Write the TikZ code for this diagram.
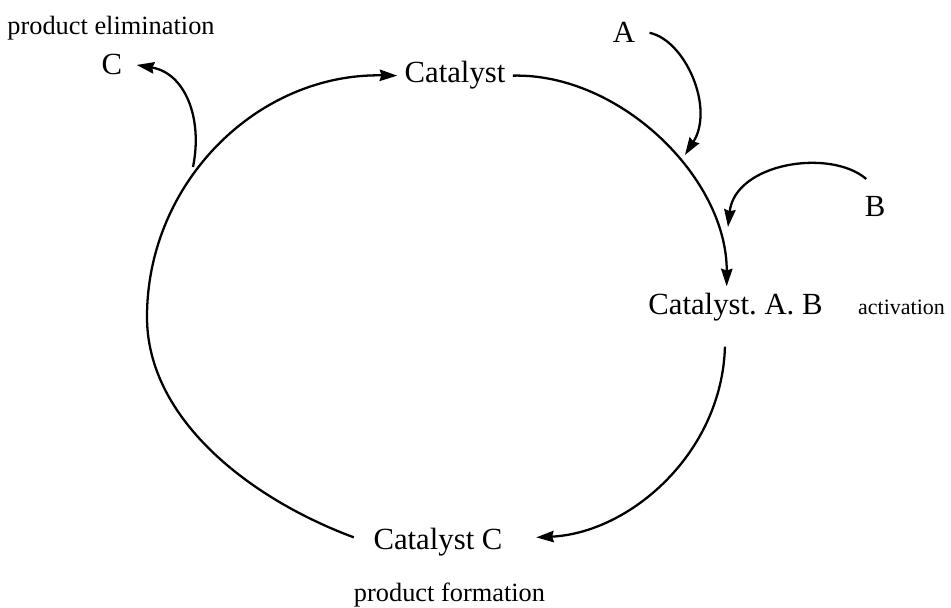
\documentclass[tikz,border=0pt]{standalone}
\usepackage{fontspec}
\setmainfont{Liberation Serif}
\usepackage{tikz}
\usetikzlibrary{arrows.meta}
\frenchspacing
\tikzstyle{species} = [font=\fontsize{17.5}{20}\selectfont, inner sep=4pt, anchor=base]
\tikzstyle{steplabel} = [font=\fontsize{15}{18}\selectfont, inner sep=2pt, anchor=base]
\tikzstyle{arrow} = [line width=1.3pt, -{Stealth[length=10pt,width=6.5pt,inset=1pt]}]

\begin{document}
\begin{tikzpicture}[x=0.02cm, y=0.02cm]
\useasboundingbox (0,0) rectangle (951,608);
\node (pelim) [steplabel] at (111,573) {product elimination};
\node (prodC) [species] at (112,533) {C};
\node (cat) [species] at (455,525) {Catalyst};
\node (A) [species] at (624,565) {A};
\node (B) [species] at (875,391) {B};
\node (catAB) [species] at (735.5,293) {Catalyst. A. B};
\node (activ) [steplabel, font=\fontsize{12.5}{15}\selectfont] at (901.5,293) {activation};
\node (catC) [species] at (438,58) {Catalyst C};
\node (pform) [steplabel] at (449.5,6) {product formation};

\coordinate (lft) at (147,291);
\coordinate (elim) at (193,441);
\coordinate (addA) at (685,453);
\coordinate (addB) at (728,381);

\draw [arrow] ([xshift=-7pt,yshift=3pt]catC.west) .. controls (248,110) and (147,190) .. (lft) .. controls (147,426) and (258,535) .. (cat.west);
\draw [arrow] (cat.east) .. controls (620,535) and (727,430) .. ([xshift=-5pt]catAB.north);
\draw [arrow] ([xshift=-6pt,yshift=-10pt]catAB.south) .. controls (722,155) and (630,75) .. ([xshift=15pt,yshift=3pt]catC.east);
\draw [arrow] ([xshift=4pt]A.east) .. controls (685,568) and (715,500) .. (addA);
\draw [arrow] ([xshift=-5pt,yshift=6pt]B.north) .. controls (830,460) and (735,445) .. (addB);
\draw [arrow] (elim) .. controls (203,490) and (185,535) .. ([xshift=4pt]prodC.east);
\end{tikzpicture}
\end{document}
